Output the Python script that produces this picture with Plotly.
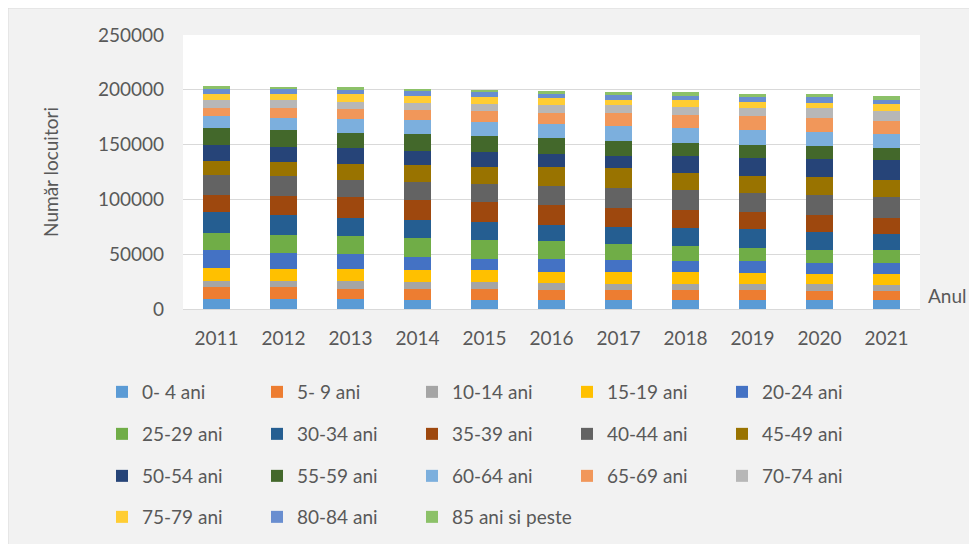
import plotly.graph_objects as go

years = ["2011", "2012", "2013", "2014", "2015", "2016", "2017", "2018", "2019", "2020", "2021"]

age_groups = ["0- 4 ani", "5- 9 ani", "10-14 ani", "15-19 ani", "20-24 ani",
              "25-29 ani", "30-34 ani", "35-39 ani", "40-44 ani", "45-49 ani",
              "50-54 ani", "55-59 ani", "60-64 ani", "65-69 ani", "70-74 ani",
              "75-79 ani", "80-84 ani", "85 ani si peste"]

v_0_4   = [8800, 8800, 8800, 8500, 8200, 8200, 8200, 8200, 8200, 7900, 7900]
v_5_9   = [10900, 10900, 9700, 9700, 10300, 9400, 9400, 9400, 9400, 8200, 8200]
v_10_14 = [5500, 5500, 6700, 6100, 5800, 6400, 5200, 5200, 5200, 6400, 5800]
v_15_19 = [12100, 10900, 10900, 10900, 10900, 9700, 10900, 10900, 9700, 9700, 9700]
v_20_24 = [16100, 15200, 13900, 12700, 10300, 11800, 11200, 9700, 10900, 9700, 10600]
v_25_29 = [16100, 16400, 16700, 17300, 17600, 16100, 14800, 14200, 12100, 12100, 11200]
v_30_34 = [18800, 18500, 16700, 16100, 16100, 15500, 15500, 16100, 17300, 16400, 15200]
v_35_39 = [16100, 17000, 19100, 18500, 18800, 17600, 17300, 16700, 15500, 15800, 14800]
v_40_44 = [18200, 18500, 15500, 15800, 16100, 17600, 17600, 18200, 17900, 18200, 18800]
v_45_49 = [12700, 12100, 14200, 16100, 15800, 17300, 18200, 15200, 15500, 15800, 15800]
v_50_54 = [14500, 14200, 14800, 12700, 13600, 11800, 11500, 15500, 16100, 17000, 17900]
v_55_59 = [15200, 15200, 13600, 15200, 13900, 14200, 13300, 12100, 12100, 11800, 10900]
v_60_64 = [11200, 11500, 12700, 13000, 13000, 13600, 13900, 13600, 13600, 12400, 12700]
v_65_69 = [7000, 8500, 9100, 8800, 10300, 9700, 11500, 12100, 12700, 13300, 11800]
v_70_74 = [7600, 7300, 6400, 6700, 6100, 7300, 7600, 7600, 7000, 8500, 9400]
v_75_79 = [5800, 6100, 7000, 6400, 6700, 6400, 4800, 5800, 6100, 4800, 6100]
v_80_84 = [4800, 3900, 4200, 4500, 4500, 3900, 4800, 3900, 4200, 5500, 3900]
v_85p   = [1800, 2100, 2400, 1800, 1800, 2400, 2100, 3600, 3000, 2400, 3600]

series = [v_0_4, v_5_9, v_10_14, v_15_19, v_20_24, v_25_29, v_30_34, v_35_39,
          v_40_44, v_45_49, v_50_54, v_55_59, v_60_64, v_65_69, v_70_74,
          v_75_79, v_80_84, v_85p]

colors = ["#5B9BD5", "#ED7D31", "#A5A5A5", "#FFC000", "#4472C4", "#70AD47",
          "#255E91", "#9E480E", "#636363", "#997300", "#264478", "#43682B",
          "#7CAFDD", "#F1975A", "#B7B7B7", "#FFCD33", "#698ED0", "#8CC168"]

yticks = [0, 50000, 100000, 150000, 200000, 250000]

FONT = "Lato"
TXT = "#595959"

# page offset caused by the default 8px body margin
OFF = 8
W, H = 977 - OFF, 544 - OFF
# plot area in page pixels
L, R_EDGE, T, B_EDGE = 183 - OFF, 920 - OFF, 35 - OFF, 309 - OFF
gw = R_EDGE - L
gh = B_EDGE - T

def px_x(p):
    return (p - OFF - L) / gw

def px_y(p):
    return (B_EDGE - (p - OFF)) / gh

legend_names = ["legend", "legend2", "legend3", "legend4"]

fig = go.Figure()
for i, (name, vals, col) in enumerate(zip(age_groups, series, colors)):
    fig.add_trace(go.Bar(
        x=years, y=vals, name=name,
        marker=dict(color=col, line=dict(width=0)),
        legend=legend_names[i // 5],
        legendwidth=160 if i == len(age_groups) - 1 else None,
    ))

row_y = [392, 434, 476, 517]
legend_common = dict(
    orientation="h", xanchor="left", yanchor="middle",
    x=px_x(102), entrywidth=110, entrywidthmode="pixels",
    font=dict(family=FONT, size=19, color=TXT),
    bgcolor="rgba(0,0,0,0)", borderwidth=0, traceorder="normal",
)

layout_legends = {}
for ln, ry in zip(legend_names, row_y):
    d = dict(legend_common)
    d["y"] = px_y(ry)
    layout_legends[ln] = d

fig.update_layout(
    width=W, height=H,
    margin=dict(l=L, r=W - R_EDGE, t=T, b=H - B_EDGE, autoexpand=False),
    barmode="stack",
    bargap=0.6,
    paper_bgcolor="white",
    plot_bgcolor="white",
    font=dict(family=FONT, size=19, color=TXT),
    xaxis=dict(
        type="category",
        showgrid=False,
        showline=True, linecolor="#d9d9d9", linewidth=1,
        ticks="", ticklabelstandoff=12,
        tickfont=dict(family=FONT, size=19, color=TXT),
    ),
    yaxis=dict(
        range=[0, 250000],
        tickvals=yticks,
        ticktext=[str(v) for v in yticks],
        showgrid=True, gridcolor="#d9d9d9", gridwidth=1,
        zeroline=False, showline=False,
        ticks="", ticklabelstandoff=18,
        tickfont=dict(family=FONT, size=19, color=TXT),
        title=dict(text="Număr locuitori", standoff=34,
                   font=dict(family=FONT, size=19, color=TXT)),
    ),
    shapes=[
        dict(type="rect", xref="paper", yref="paper", layer="below",
             x0=px_x(8), x1=px_x(1000), y0=px_y(580), y1=px_y(8),
             fillcolor="#f2f2f2", line=dict(color="#d9d9d9", width=1)),
        dict(type="rect", xref="paper", yref="paper", layer="below",
             x0=0, x1=1, y0=0, y1=1,
             fillcolor="white", line=dict(width=0)),
    ],
    annotations=[
        dict(text="Anul", xref="paper", yref="paper",
             x=px_x(926), y=px_y(295), xanchor="left", yanchor="middle",
             showarrow=False, font=dict(family=FONT, size=19, color=TXT)),
    ],
    **layout_legends,
)

fig.write_html("out.html")
